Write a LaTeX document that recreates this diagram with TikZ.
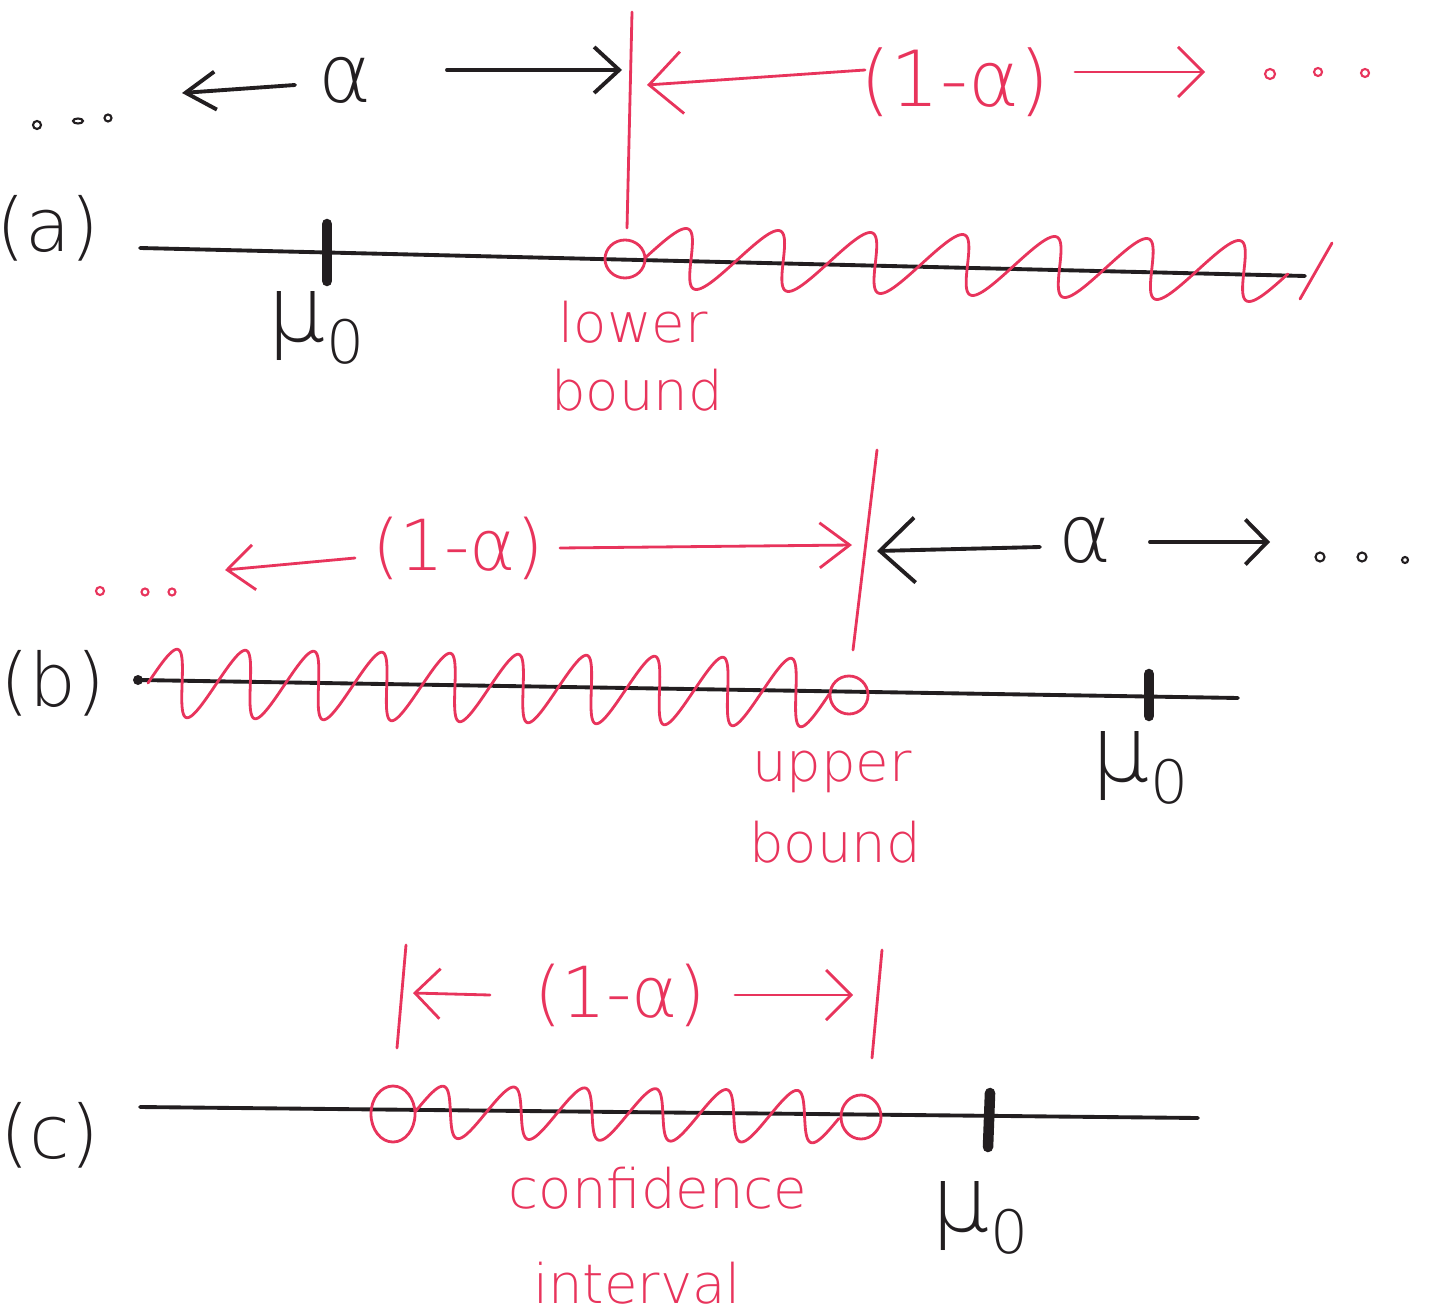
\documentclass[tikz,border=0pt]{standalone}
\usepackage{fontspec}
\setmainfont{DejaVuSans-ExtraLight.ttf}
\usetikzlibrary{arrows.meta,shapes.geometric}
\definecolor{inkblack}{RGB}{34,30,32}
\definecolor{penred}{RGB}{232,52,92}
\newcommand{\muzero}{μ\kern0.5pt\raisebox{-0.45ex}{\fontsize{17}{17}\selectfont 0}}
\begin{document}
\begin{tikzpicture}[x=0.01cm,y=-0.01cm,
  ink/.style={draw=inkblack,line width=1.1pt,line cap=round,line join=round},
  pen/.style={draw=penred,line width=0.8pt,line cap=round,line join=round},
  tickmark/.style={draw=inkblack,line width=3pt,line cap=round},
  barb/.style 2 args={-{Straight Barb[length=#1,width=#2]}},
  rlbl/.style={inner sep=0,text=penred,font=\fontsize{20}{24}\selectfont},
  rword/.style={inner sep=0,text=penred,font=\fontsize{15.5}{18}\selectfont},
  mulbl/.style={inner sep=0,text=inkblack,font=\fontsize{26}{28}\selectfont},
  panel/.style={inner sep=0,text=inkblack,font=\fontsize{21}{24}\selectfont},
  bigalpha/.style={inner sep=0,text=inkblack,font=\fontsize{23}{26}\selectfont},
  ring/.style={draw,line width=0.6pt},
  redring/.style={draw=penred,line width=0.8pt,ellipse,inner sep=0},
  wavy/.style={pen,smooth}
]
\useasboundingbox (0,0) rectangle (1431,1313);

% ================= (a) =================
\node[panel] (pa) at (48,228) {(a)};
\coordinate (aL) at (140,248);
\coordinate (aR) at (1305,276);
\draw[ink] (aL) -- (aR);
\coordinate (amuT) at (327,224);
\coordinate (amuB) at (327,281);
\draw[tickmark] (amuT) -- (amuB);
\node[mulbl] (amu) at (316,328) {\muzero};
% lower bound
\coordinate (avT) at (632,12);
\coordinate (avB) at (627,228);
\draw[pen] (avT) -- (avB);
\node[redring,minimum width=0.4cm,minimum height=0.38cm] (acirc) at (625,259) {};
\draw[wavy] plot[domain=0:1,samples=400,variable=\t]
  ({645+645*\t+18*sin(7*360*\t)},{258+14*\t-30*sin(7*360*\t)});
\coordinate (asl1) at (1300,299);
\coordinate (asl2) at (1332,243);
\draw[pen] (asl1) -- (asl2);
\node[rword] (alow) at (633,322) {lower};
\node[rword] (abnd) at (637,390) {bound};
% arrows
\node[bigalpha] (aalpha) at (345,80) {α};
\coordinate (aa1s) at (295,85);
\coordinate (aa1e) at (182,93);
\draw[ink,barb={3mm}{3.8mm}] (aa1s) -- (aa1e);
\coordinate (aa2s) at (447,70);
\coordinate (aa2e) at (622,70);
\draw[ink,barb={2.5mm}{4.6mm}] (aa2s) -- (aa2e);
\node[rlbl,font=\fontsize{22}{26}\selectfont] (a1ma) at (955,82) {(1-α)};
\coordinate (ar1s) at (865,70);
\coordinate (ar1e) at (647,85);
\draw[pen,barb={3.3mm}{6.2mm}] (ar1s) -- (ar1e);
\coordinate (ar2s) at (1075,72);
\coordinate (ar2e) at (1205,72);
\draw[pen,barb={2.5mm}{5mm}] (ar2s) -- (ar2e);
\draw[ring,draw=penred] (1270,74) circle[radius=0.05cm] (1318,72) circle[radius=0.04cm] (1365,73) circle[radius=0.04cm];
\draw[ring,draw=inkblack] (37,125) circle[radius=0.04cm] (78,121) circle[x radius=0.05cm,y radius=0.025cm] (108,118) circle[radius=0.035cm];

% ================= (b) =================
\node[panel] (pb) at (53,683) {(b)};
\coordinate (bL) at (138,680);
\coordinate (bR) at (1238,698);
\draw[ink] (bL) -- (bR);
\fill[inkblack] (bL) circle[radius=0.05cm];
\draw[wavy] plot[domain=0:1,samples=500,variable=\t]
  ({148+682*\t+12*sin(10*360*\t)},{683+10*\t-34*sin(10*360*\t)});
\node[redring,minimum width=0.38cm,minimum height=0.38cm] (bcirc) at (849,695) {};
\coordinate (bmuT) at (1149,674);
\coordinate (bmuB) at (1149,716);
\draw[tickmark] (bmuT) -- (bmuB);
\node[mulbl] (bmu) at (1140,768) {\muzero};
\coordinate (bvT) at (877,450);
\coordinate (bvB) at (853,650);
\draw[pen] (bvT) -- (bvB);
\node[rword] (bup) at (832,772) {upper};
\node[rword] (bbnd) at (835,842) {bound};
\node[rlbl] (b1ma) at (458,548) {(1-α)};
\coordinate (br1s) at (355,558);
\coordinate (br1e) at (225,570);
\draw[pen,barb={2.7mm}{4.5mm}] (br1s) -- (br1e);
\coordinate (br2s) at (560,548);
\coordinate (br2e) at (852,545);
\draw[pen,barb={3mm}{4.5mm}] (br2s) -- (br2e);
\draw[ring,draw=penred] (100,591) circle[radius=0.04cm] (145,592) circle[radius=0.035cm] (172,592) circle[radius=0.035cm];
\node[bigalpha] (balpha) at (1085,540) {α};
\coordinate (bb1s) at (1040,547);
\coordinate (bb1e) at (877,551);
\draw[ink,barb={3.5mm}{6.5mm}] (bb1s) -- (bb1e);
\coordinate (bb2s) at (1150,542);
\coordinate (bb2e) at (1270,542);
\draw[ink,barb={2.2mm}{4.5mm}] (bb2s) -- (bb2e);
\draw[ring,draw=inkblack] (1320,557) circle[radius=0.045cm] (1362,557) circle[radius=0.045cm] (1405,560) circle[radius=0.03cm];

% ================= (c) =================
\node[panel] (pc) at (50,1135) {(c)};
\coordinate (cL) at (140,1107);
\coordinate (cR) at (1198,1118);
\draw[ink] (cL) -- (cR);
\node[redring,minimum width=0.44cm,minimum height=0.56cm] (ccl) at (393,1114) {};
\node[redring,minimum width=0.4cm,minimum height=0.44cm] (ccr) at (861,1117) {};
\draw[wavy] plot[domain=0:1,samples=400,variable=\t]
  ({415+425*\t+10*sin(6*360*\t)},{1112+5*\t-26*sin(6*360*\t)});
\coordinate (cmuT) at (990,1093);
\coordinate (cmuB) at (988,1147);
\draw[tickmark] (cmuT) -- (cmuB);
\node[mulbl] (cmu) at (980,1218) {\muzero};
\coordinate (cv1T) at (406,945);
\coordinate (cv1B) at (397,1048);
\draw[pen] (cv1T) -- (cv1B);
\coordinate (cv2T) at (882,950);
\coordinate (cv2B) at (872,1058);
\draw[pen] (cv2T) -- (cv2B);
\node[rlbl] (c1ma) at (620,995) {(1-α)};
\coordinate (cr1s) at (490,995);
\coordinate (cr1e) at (413,993);
\draw[pen,barb={2.5mm}{5mm}] (cr1s) -- (cr1e);
\coordinate (cr2s) at (735,995);
\coordinate (cr2e) at (853,995);
\draw[pen,barb={2.5mm}{5mm}] (cr2s) -- (cr2e);
\node[rword] (cconf) at (658,1188) {confidence};
\node[rword] (cint) at (637,1283) {interval};
\end{tikzpicture}
\end{document}
